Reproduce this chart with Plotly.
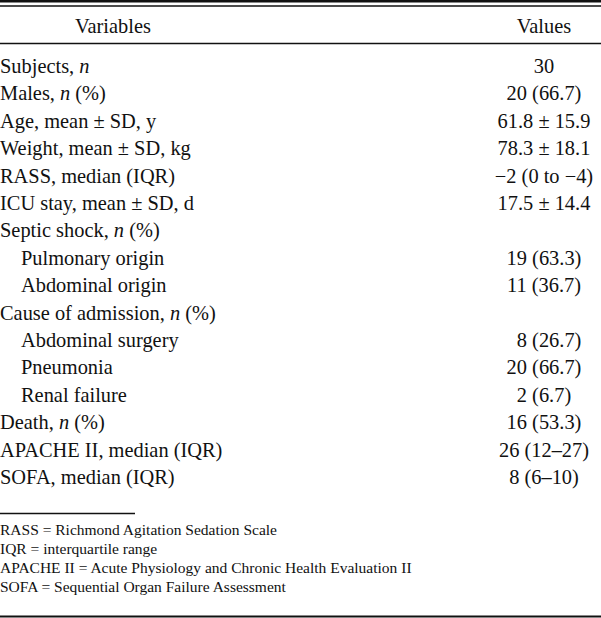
import plotly.graph_objects as go

# ---- table data ----
header_labels = ["Variables", "Values"]
variables = [
    "Subjects, <i>n</i>",
    "Males, <i>n</i> (%)",
    "Age, mean ± SD, y",
    "Weight, mean ± SD, kg",
    "RASS, median (IQR)",
    "ICU stay, mean ± SD, d",
    "Septic shock, <i>n</i> (%)",
    "Pulmonary origin",
    "Abdominal origin",
    "Cause of admission, <i>n</i> (%)",
    "Abdominal surgery",
    "Pneumonia",
    "Renal failure",
    "Death, <i>n</i> (%)",
    "APACHE II, median (IQR)",
    "SOFA, median (IQR)",
]
indented = [False, False, False, False, False, False, False, True, True,
            False, True, True, True, False, False, False]
values = [
    "30",
    "20 (66.7)",
    "61.8 ± 15.9",
    "78.3 ± 18.1",
    "−2 (0 to −4)",
    "17.5 ± 14.4",
    "",
    "19 (63.3)",
    "11 (36.7)",
    "",
    "\u20078 (26.7)",
    "20 (66.7)",
    "2 (6.7)",
    "16 (53.3)",
    "26 (12–27)",
    "8 (6–10)",
]
footnotes = [
    "RASS = Richmond Agitation Sedation Scale",
    "IQR = interquartile range",
    "APACHE II = Acute Physiology and Chronic Health Evaluation II",
    "SOFA = Sequential Organ Failure Assessment",
]

# ---- layout geometry (pixels) ----
W, H = 601, 618
FONT = "Liberation Serif, Times New Roman, serif"
row0_px, pitch_px = 68.0, 27.4
indent_px = 21
val_x = 544

# y axis in "row index" units, mapped so that row i sits at row0_px + i*pitch_px
y_top = -row0_px / pitch_px
y_bot = (H - row0_px) / pitch_px

rows = list(range(len(variables)))

fig = go.Figure()

fig.add_trace(go.Scatter(
    x=[indent_px if ind else 0 for ind in indented],
    y=rows,
    text=variables,
    mode="text",
    textposition="middle right",
    textfont=dict(family=FONT, size=20.4, color="#111"),
    hoverinfo="skip",
    showlegend=False,
))
fig.add_trace(go.Scatter(
    x=[val_x] * len(values),
    y=rows,
    text=values,
    mode="text",
    textposition="middle center",
    textfont=dict(family=FONT, size=20.4, color="#111"),
    hoverinfo="skip",
    showlegend=False,
))

def py(p):
    """pixel y -> row-index axis coordinate"""
    return (p - row0_px) / pitch_px

# header
fig.add_trace(go.Scatter(
    x=[113, val_x],
    y=[py(28), py(28)],
    text=header_labels,
    mode="text",
    textposition="middle center",
    textfont=dict(family=FONT, size=20.4, color="#111"),
    hoverinfo="skip",
    showlegend=False,
))

# footnotes
foot_px = [531, 550, 569, 588]
fig.add_trace(go.Scatter(
    x=[0] * len(footnotes),
    y=[py(p) for p in foot_px],
    text=footnotes,
    mode="text",
    textposition="middle right",
    textfont=dict(family=FONT, size=15.5, color="#111"),
    hoverinfo="skip",
    showlegend=False,
))

shapes = []
def hline(p, x0, x1, w):
    shapes.append(dict(type="line", xref="x", yref="y", x0=x0, x1=x1,
                       y0=py(p), y1=py(p), line=dict(color="#111", width=w)))

hline(1.2, 0, W, 2.5)
hline(6, 0, W, 1.5)
hline(43.5, 0, W, 1.5)
hline(513.5, 0, 135, 1.5)
hline(616.5, 0, W, 2.2)

fig.update_layout(
    width=W, height=H,
    margin=dict(l=0, r=0, t=0, b=0),
    paper_bgcolor="white", plot_bgcolor="white",
    shapes=shapes,
    xaxis=dict(range=[0, W], visible=False, fixedrange=True),
    yaxis=dict(range=[y_bot, y_top], visible=False, fixedrange=True),
)

fig.write_html(
    "out.html",
    config={"displayModeBar": False},
    post_script="document.body.style.margin='0';document.body.style.overflow='hidden';",
)
